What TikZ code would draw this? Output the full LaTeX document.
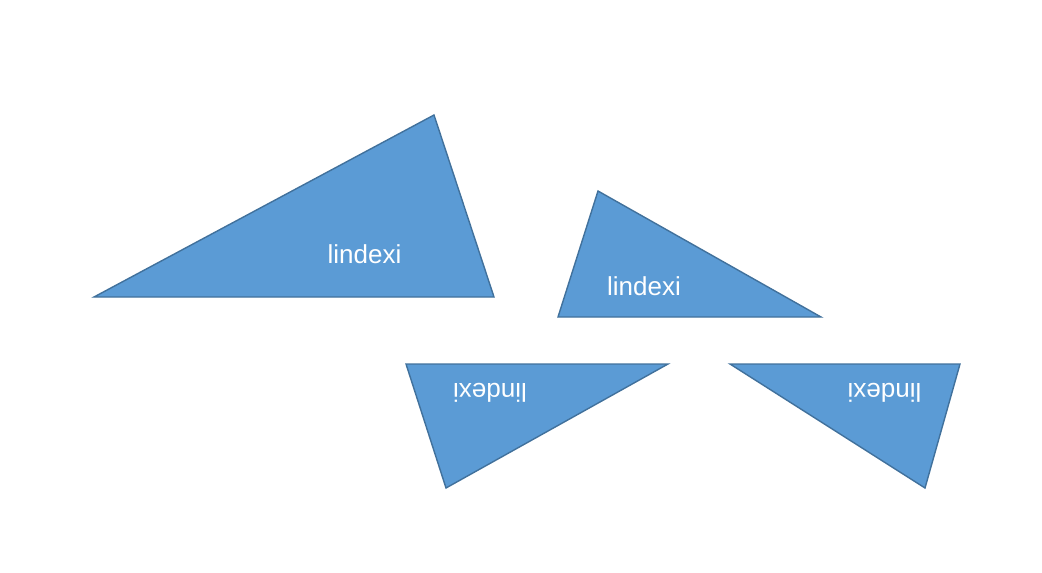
\documentclass[tikz,border=0pt]{standalone}
\usepackage{fontspec}
\setmainfont{Liberation Sans}
\definecolor{tfill}{HTML}{5B9BD5}
\definecolor{tline}{HTML}{41719C}
\begin{document}
\begin{tikzpicture}[x=1pt,y=-1pt,
  tri/.style={fill=tfill,draw=tline,line width=1.4pt,line join=miter},
  lbl/.style={text=white,font=\fontsize{26}{30}\selectfont,inner sep=0pt,anchor=base}]
\useasboundingbox (0,0) rectangle (1042,573);
% triangle 1
\coordinate (a1) at (94,297);
\coordinate (a2) at (434,115);
\coordinate (a3) at (494,297);
\draw[tri] (a1) -- (a2) -- (a3) -- cycle;
\node[lbl] (t1) at (364.5,263) {lindexi};
% triangle 2
\coordinate (b1) at (598,191);
\coordinate (b2) at (821,317);
\coordinate (b3) at (558,317);
\draw[tri] (b1) -- (b2) -- (b3) -- cycle;
\node[lbl] (t2) at (644,295) {lindexi};
% triangle 3
\coordinate (c1) at (406,364);
\coordinate (c2) at (668,364);
\coordinate (c3) at (446,488);
\draw[tri] (c1) -- (c2) -- (c3) -- cycle;
\node[lbl,rotate=180] (t3) at (490,383) {lindexi};
% triangle 4
\coordinate (d1) at (730,364);
\coordinate (d2) at (960,364);
\coordinate (d3) at (925,488);
\draw[tri] (d1) -- (d2) -- (d3) -- cycle;
\node[lbl,rotate=180] (t4) at (884.5,383) {lindexi};
\end{tikzpicture}
\end{document}
